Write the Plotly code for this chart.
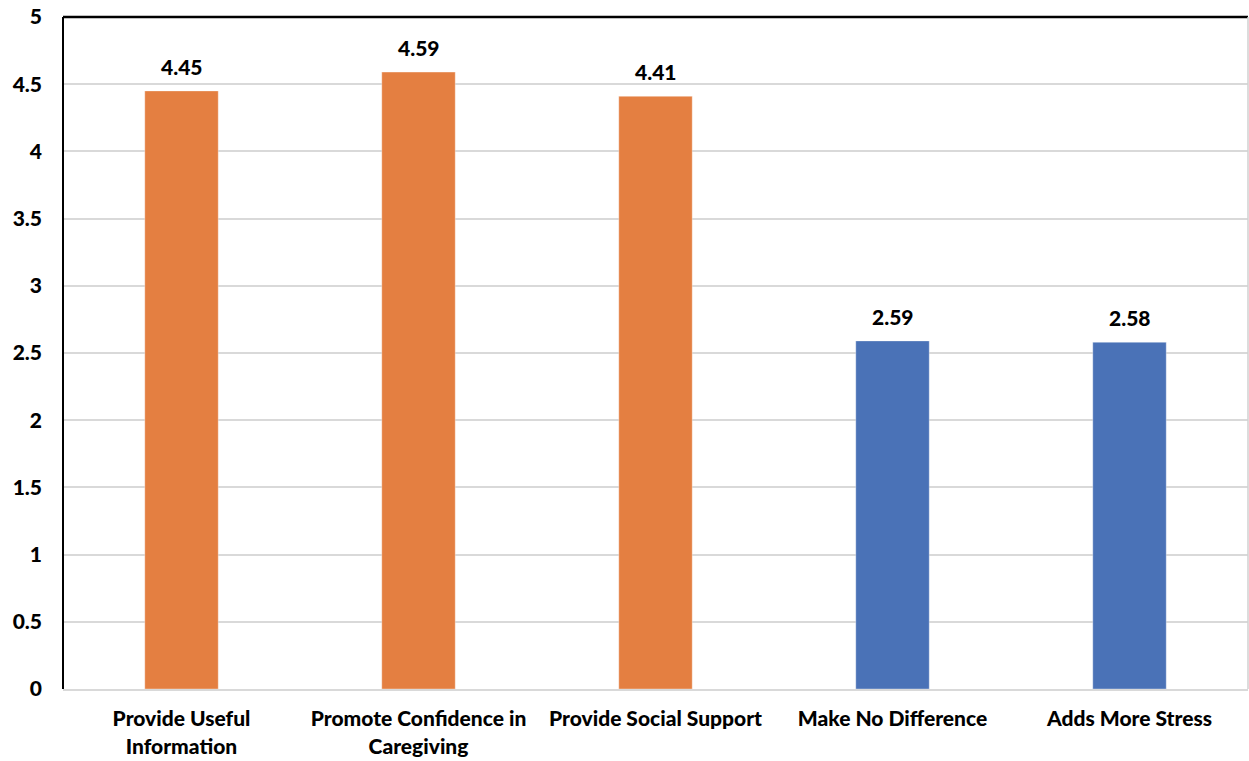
import plotly.graph_objects as go

categories = ["Provide Useful<br>Information", "Promote Confidence in<br>Caregiving",
              "Provide Social Support", "Make No Difference", "Adds More Stress"]
values = [4.45, 4.59, 4.41, 2.59, 2.58]
colors = ["#E47F41", "#E47F41", "#E47F41", "#4A72B7", "#4A72B7"]
y_ticks = [0, 0.5, 1, 1.5, 2, 2.5, 3, 3.5, 4, 4.5, 5]
y_tick_text = ["0", "0.5", "1", "1.5", "2", "2.5", "3", "3.5", "4", "4.5", "5"]

FONT = "Lato"

fig = go.Figure()
fig.add_trace(go.Bar(
    x=categories, y=values,
    marker=dict(color=colors, line=dict(color="rgba(255,255,255,0.35)", width=1)),
    width=0.31,
    hoverinfo="skip",
))

for c, v in zip(categories, values):
    fig.add_annotation(x=c, y=v, text=f"{v:.2f}", showarrow=False,
                       yanchor="bottom", yshift=10,
                       font=dict(family=FONT, size=21, color="#000000", weight=900))

fig.update_layout(
    width=1249, height=761,
    margin=dict(l=63, r=1, t=17, b=72),
    plot_bgcolor="white", paper_bgcolor="white",
    showlegend=False,
    font=dict(family=FONT, size=18, color="#000000"),
    xaxis=dict(
        showgrid=False, showline=True, linecolor="#D9D9D9", linewidth=2,
        tickfont=dict(family=FONT, size=21, color="#000000", weight=900),
        ticks="", ticklabelstandoff=10,
    ),
    yaxis=dict(
        range=[0, 5], tickvals=y_ticks, ticktext=y_tick_text,
        showgrid=True, gridcolor="#D9D9D9", gridwidth=1.5,
        zeroline=False, showline=False,
        tickfont=dict(family=FONT, size=21, color="#000000", weight=900),
        ticks="", ticklabelstandoff=20,
    ),
    shapes=[
        dict(type="line", xref="paper", yref="paper", x0=0, x1=1, y0=1, y1=1,
             line=dict(color="#000000", width=2.5)),
        dict(type="line", xref="paper", yref="paper", x0=0, x1=0, y0=0, y1=1,
             line=dict(color="#000000", width=2)),
        dict(type="line", xref="paper", yref="paper", x0=1, x1=1, y0=0, y1=1,
             line=dict(color="#D0D0D0", width=1.5)),
    ],
)

fig.write_html("out.html")
